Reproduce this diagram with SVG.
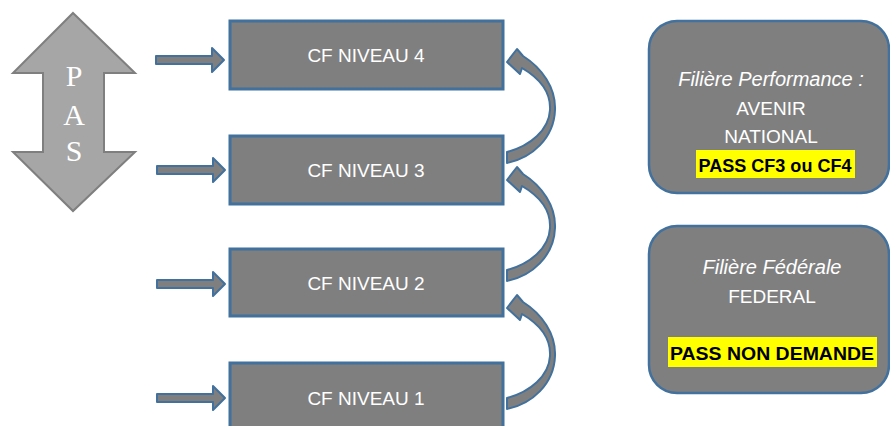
<svg xmlns="http://www.w3.org/2000/svg" width="890" height="426" viewBox="0 0 890 426">
<defs>
<style>
.box{fill:#7f7f7f;stroke:#41719c;stroke-width:3}
.rbox{fill:#7f7f7f;stroke:#41719c;stroke-width:2.5}
.lbl{font-family:"Liberation Sans",Arial,sans-serif;font-size:19px;fill:#ffffff;text-anchor:middle}
.it{font-style:italic;font-size:20px}
.bold{font-weight:bold;fill:#000000}
.hl{fill:#ffff00}
.conn{fill:#7f7f7f;stroke:#41719c;stroke-width:2;stroke-linejoin:round}
.pas{fill:#a6a6a6;stroke:#7f7f7f;stroke-width:2}
.pastxt{font-family:"Liberation Serif","Times New Roman",serif;font-size:30px;fill:#ffffff;text-anchor:middle}
</style>
<path id="sarrow" d="M0,-4 L56,-4 L56,-12 L68,0 L56,12 L56,4 L0,4 Z"/>
<path id="carrow" d="M507,62 L517,49 L523,56 C542,68 556,88 555,110 C554,138 532,158 507,163 L507,152 C530,146 549,130 550,110 C551,92 539,78 522,68 L520,74 Z"/>
</defs>
<rect width="890" height="426" fill="#ffffff"/>

<g id="pas">
<path class="pas" d="M73,13 L135,73 L104,73 L104,152 L135,152 L73,211 L13,152 L43,152 L43,73 L13,73 Z"/>
<text class="pastxt" x="74" y="86">P</text>
<text class="pastxt" x="74" y="125">A</text>
<text class="pastxt" x="74" y="161">S</text>
</g>

<g id="cf4">
<rect class="box" x="230" y="21" width="273" height="68"/>
<text class="lbl" x="366" y="62">CF NIVEAU 4</text>
</g>
<g id="cf3">
<rect class="box" x="230" y="136" width="273" height="68"/>
<text class="lbl" x="366" y="177">CF NIVEAU 3</text>
</g>
<g id="cf2">
<rect class="box" x="230" y="249" width="273" height="67"/>
<text class="lbl" x="366" y="290">CF NIVEAU 2</text>
</g>
<g id="cf1">
<rect class="box" x="230" y="363" width="273" height="70"/>
<text class="lbl" x="366" y="405">CF NIVEAU 1</text>
</g>

<g id="connectors">
<use href="#sarrow" class="conn" transform="translate(156,60)"/>
<use href="#sarrow" class="conn" transform="translate(157,170)"/>
<use href="#sarrow" class="conn" transform="translate(157,284)"/>
<use href="#sarrow" class="conn" transform="translate(157,398)"/>
<use href="#carrow" class="conn"/>
<use href="#carrow" class="conn" transform="translate(0,118)"/>
<use href="#carrow" class="conn" transform="translate(0,246)"/>
</g>

<g id="performance">
<rect class="rbox" x="649" y="21" width="240" height="172" rx="28"/>
<text class="lbl it" x="771" y="86">Filière Performance :</text>
<text class="lbl" x="771" y="115">AVENIR</text>
<text class="lbl" x="771" y="143">NATIONAL</text>
<rect class="hl" x="696" y="150" width="159" height="28"/>
<text class="lbl bold" x="775" y="172" textLength="153" lengthAdjust="spacingAndGlyphs">PASS CF3 ou CF4</text>
</g>

<g id="federale">
<rect class="rbox" x="649" y="226" width="240" height="167" rx="28"/>
<text class="lbl it" x="772" y="274">Filière Fédérale</text>
<text class="lbl" x="772" y="303">FEDERAL</text>
<rect class="hl" x="668" y="337" width="209" height="30"/>
<text class="lbl bold" x="772" y="360" textLength="204" lengthAdjust="spacingAndGlyphs">PASS NON DEMANDE</text>
</g>
</svg>
